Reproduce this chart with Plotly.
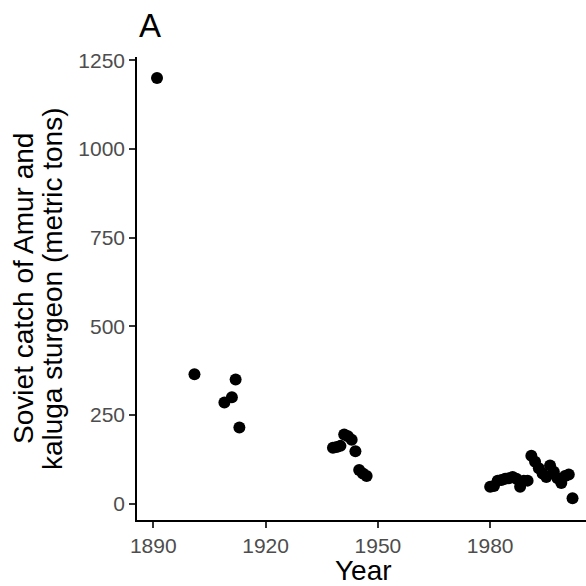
import plotly.graph_objects as go

years = [1891, 1901, 1909, 1911, 1912, 1913,
         1938, 1939, 1940, 1941, 1942, 1943, 1944, 1945, 1946, 1947,
         1980, 1981, 1982, 1983, 1984, 1985, 1986, 1987, 1988, 1989, 1990,
         1991, 1992, 1993, 1994, 1995, 1996, 1997, 1998, 1999, 2000, 2001, 2002]
catch = [1200, 365, 285, 300, 350, 215,
         158, 160, 163, 195, 190, 180, 148, 95, 85, 78,
         48, 50, 65, 67, 70, 72, 75, 70, 48, 65, 65,
         135, 118, 100, 85, 75, 108, 90, 72, 58, 78, 82, 15]

x_ticks = [1890, 1920, 1950, 1980]
y_ticks = [0, 250, 500, 750, 1000, 1250]

FONT = "Liberation Sans, Arial, sans-serif"

fig = go.Figure()
fig.add_trace(go.Scatter(
    x=years, y=catch, mode="markers",
    marker=dict(color="black", size=12, line=dict(width=0)),
    showlegend=False, hoverinfo="x+y"))

fig.update_layout(
    width=586, height=586,
    margin=dict(l=137, r=0, t=57, b=66),
    paper_bgcolor="white", plot_bgcolor="white",
    font=dict(family=FONT, color="black"),
    xaxis=dict(range=[1885.65, 2005.6], tickvals=x_ticks,
               ticktext=[str(v) for v in x_ticks],
               showgrid=False, zeroline=False, showline=True,
               linecolor="black", linewidth=1.5, mirror=False,
               ticks="outside", ticklen=6, tickwidth=1.5, tickcolor="#333333",
               tickfont=dict(size=21, color="#4D4D4D", family=FONT)),
    yaxis=dict(range=[-46, 1259.4], tickvals=y_ticks,
               ticktext=[str(v) for v in y_ticks],
               showgrid=False, zeroline=False, showline=True,
               linecolor="black", linewidth=1.5, mirror=False,
               ticks="outside", ticklen=6, tickwidth=1.5, tickcolor="#333333",
               tickfont=dict(size=21, color="#4D4D4D", family=FONT)),
    annotations=[
        dict(text="A", xref="paper", yref="paper", x=0.0, y=1.069,
             xanchor="left", yanchor="middle", showarrow=False,
             font=dict(size=33, color="black", family=FONT)),
        dict(text="Year", xref="paper", yref="paper", x=0.505, y=-0.110,
             xanchor="center", yanchor="middle", showarrow=False,
             font=dict(size=28, color="black", family=FONT)),
        dict(text="Soviet catch of Amur and", xref="paper", yref="paper",
             x=-0.253, y=0.5, textangle=-90,
             xanchor="center", yanchor="middle", showarrow=False,
             font=dict(size=28, color="black", family=FONT)),
        dict(text="kaluga sturgeon (metric tons)", xref="paper", yref="paper",
             x=-0.188, y=0.5, textangle=-90,
             xanchor="center", yanchor="middle", showarrow=False,
             font=dict(size=28, color="black", family=FONT)),
    ],
)

fig.write_html("out.html")
